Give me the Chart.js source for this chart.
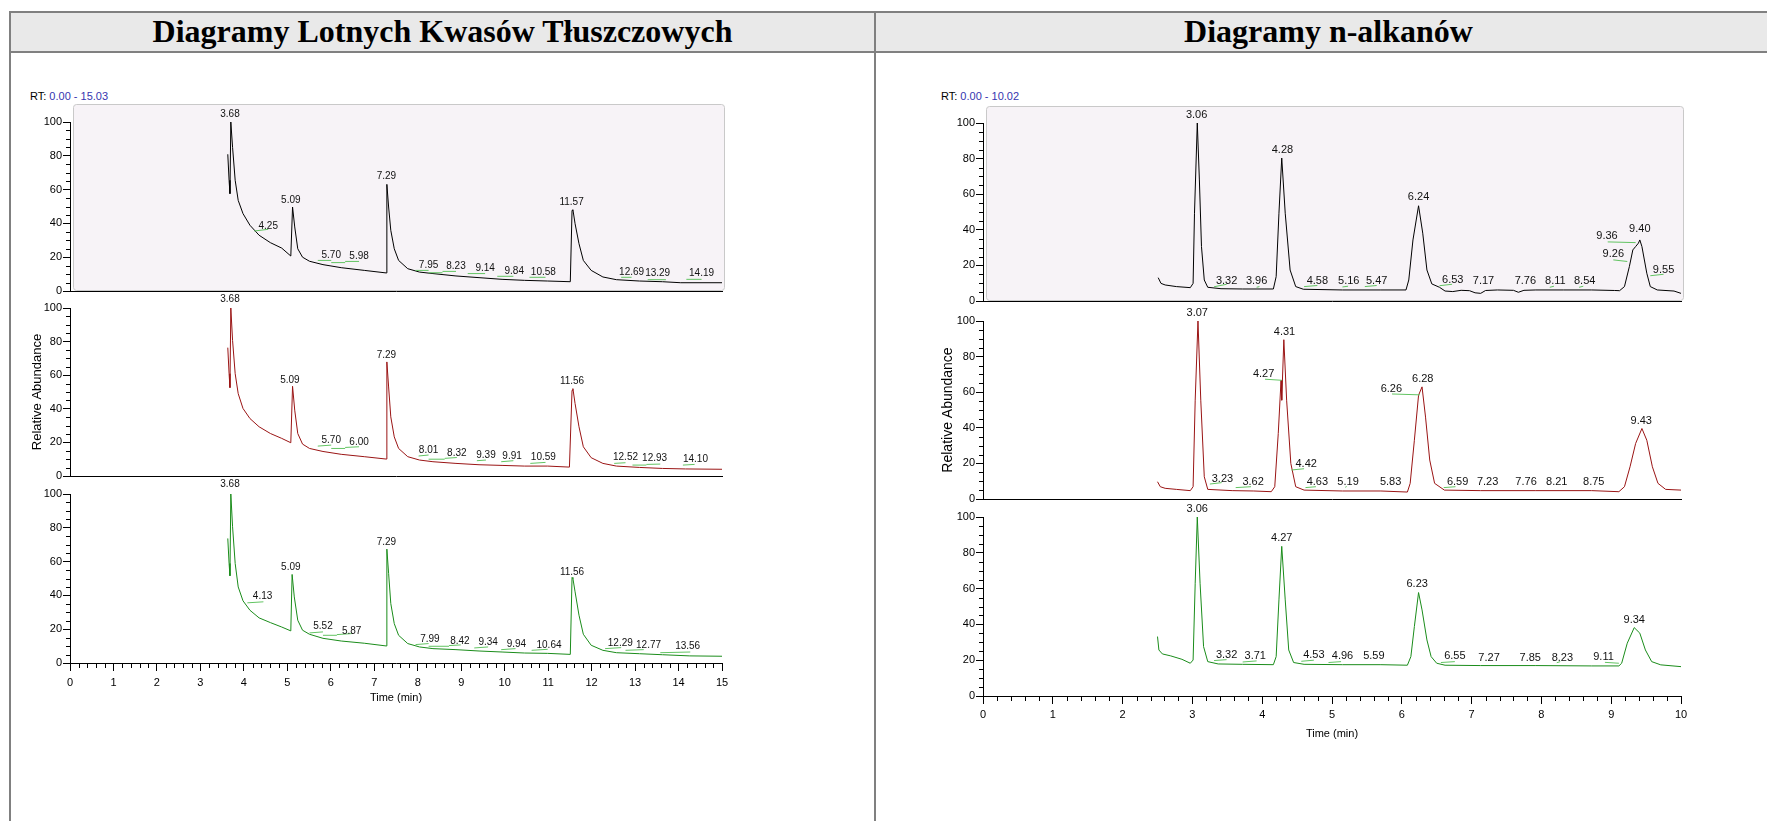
<!DOCTYPE html>
<html>
<head>
<meta charset="utf-8">
<script src="https://cdn.jsdelivr.net/npm/chart.js@4.4.1/dist/chart.umd.min.js"></script>
<style>
  body { margin: 0; width: 1767px; height: 821px; overflow: hidden; background: #fff; position: relative;
         font-family: 'Liberation Sans', Arial, sans-serif; }
  .rule { position: absolute; background: #808080; }
  .head { position: absolute; top: 13px; height: 38px; line-height: 40px; text-align: center;
          font: bold 32px 'Liberation Serif', 'Times New Roman', serif; color: #000; white-space: nowrap; }
  .rt { position: absolute; font-size: 11px; line-height: 13px; color: #000; white-space: nowrap; }
  .rt span { color: #3535b0; }
  canvas { position: absolute; }
</style>
</head>
<body>
<div class="rule" style="left:11px;top:13px;width:1760px;height:38px;background:#e9e9e9"></div>
<div class="rule" style="left:9px;top:11px;width:1760px;height:2px"></div>
<div class="rule" style="left:9px;top:51px;width:1760px;height:2px"></div>
<div class="rule" style="left:9px;top:11px;width:2px;height:810px"></div>
<div class="rule" style="left:874px;top:11px;width:2px;height:810px"></div>
<div class="head" style="left:11px;width:863px">Diagramy Lotnych Kwasów Tłuszczowych</div>
<div class="head" style="left:876px;width:905px">Diagramy n-alkanów</div>
<div class="rt" style="left:30px;top:90px">RT: <span>0.00 - 15.03</span></div>
<div class="rt" style="left:941px;top:90px">RT: <span>0.00 - 10.02</span></div>

<canvas id="vfa1"></canvas>
<canvas id="vfa2"></canvas>
<canvas id="vfa3"></canvas>
<canvas id="alk1"></canvas>
<canvas id="alk2"></canvas>
<canvas id="alk3"></canvas>

<script>
// ---- data: [time (min), relative abundance] ----
const vfaTrace1 = [[3.63,80.9],[3.66,65.5],[3.68,57.6],[3.70,100],[3.74,85],[3.80,65.5],[3.87,53.6],[3.98,45.8],[4.14,38.9],[4.35,33],[4.61,28.6],[4.87,25.4],[5.08,20.7],[5.12,49.7],[5.17,37.9],[5.24,25],[5.35,20],[5.51,17.6],[5.82,15.6],[6.24,13.8],[6.77,12.2],[7.27,10.7],[7.29,63.1],[7.33,49.7],[7.38,35.9],[7.46,25],[7.56,18.1],[7.77,13.2],[8.04,11.2],[8.35,10.3],[8.88,8.9],[9.41,7.9],[9.94,6.9],[10.46,6.3],[10.99,5.9],[11.51,5.5],[11.55,47.7],[11.57,48.1],[11.62,39.8],[11.71,28],[11.81,18.1],[11.99,12.2],[12.26,8.3],[12.57,6.7],[13.10,5.9],[13.63,5.5],[14.05,4.9],[15.0,4.9]];
const vfaTrace2 = [[3.63,76.4],[3.66,60.9],[3.68,52.6],[3.70,100],[3.74,80.7],[3.80,60.9],[3.87,49],[3.98,40.2],[4.14,34.2],[4.35,29.3],[4.61,25.3],[4.87,22.4],[5.08,19.8],[5.12,53.4],[5.17,39.2],[5.24,25.3],[5.35,19],[5.51,16.4],[5.82,14.6],[6.24,12.9],[6.77,11.5],[7.27,10.1],[7.29,67.9],[7.33,53],[7.38,35.2],[7.46,23.3],[7.56,16.4],[7.77,11.5],[8.04,9.5],[8.35,8.5],[8.88,7.5],[9.41,6.7],[9.94,6.3],[10.46,5.9],[10.99,5.9],[11.49,5.3],[11.55,51],[11.57,52],[11.62,43.1],[11.71,29.3],[11.81,17.4],[11.99,10.9],[12.26,7.5],[12.57,5.9],[13.10,5.1],[13.63,4.5],[14.16,4.2],[15.0,4.0]];
const vfaTrace3 = [[3.63,73.7],[3.66,58.9],[3.68,51.6],[3.70,100],[3.74,80.6],[3.80,58.9],[3.87,45],[3.98,36.8],[4.14,31.2],[4.35,26.7],[4.61,23.9],[4.87,21.3],[5.08,19],[5.11,52.4],[5.16,39.1],[5.24,25.3],[5.35,19.4],[5.51,17],[5.82,14.6],[6.24,13],[6.77,11.7],[7.27,10.1],[7.29,67.4],[7.33,53],[7.38,35.2],[7.46,23.3],[7.56,16.4],[7.77,11.5],[8.04,9.5],[8.35,8.5],[8.88,7.9],[9.41,7.1],[9.94,6.5],[10.46,5.9],[10.99,5.7],[11.51,5.1],[11.55,50.6],[11.57,50],[11.62,42.1],[11.71,28.3],[11.81,17],[11.99,10.5],[12.26,7.5],[12.57,6.1],[13.10,5.5],[13.63,4.9],[14.26,4.2],[15.0,4.0]];

const alkTrace1 = [[2.51,13.1],[2.55,9.9],[2.61,9.0],[2.77,8.1],[2.97,7.5],[3.01,9.9],[3.03,49.3],[3.07,100],[3.10,68],[3.13,30.6],[3.17,11.8],[3.22,7.7],[3.41,6.9],[3.72,6.75],[4.04,6.75],[4.16,6.75],[4.20,13.7],[4.24,49.3],[4.28,80.3],[4.33,49.3],[4.40,17.4],[4.48,8.1],[4.59,6.6],[5.15,6.2],[5.70,6.2],[6.06,6.2],[6.10,11.8],[6.16,34.3],[6.24,53.5],[6.30,38.1],[6.36,17.4],[6.43,9.6],[6.54,7.7],[6.62,5.6],[6.73,5.3],[6.85,6.0],[6.97,5.8],[7.05,4.6],[7.13,4.3],[7.20,5.9],[7.37,6.2],[7.60,6.0],[7.67,4.9],[7.75,6.0],[7.92,6.2],[8.32,6.2],[8.72,6.2],[9.05,5.9],[9.12,5.8],[9.19,8.1],[9.26,19.3],[9.31,28.7],[9.35,30.6],[9.39,32.5],[9.41,34.3],[9.44,30.6],[9.51,15.6],[9.56,8.1],[9.66,6.2],[9.90,5.6],[10.0,4.3]];
const alkTrace2 = [[2.50,9.7],[2.54,6.9],[2.61,6.0],[2.77,5.4],[2.97,4.7],[3.01,6.9],[3.04,55.5],[3.08,100],[3.12,55.5],[3.17,12.5],[3.22,5.4],[3.57,4.7],[3.88,4.5],[4.13,4.1],[4.18,6.9],[4.23,36.8],[4.27,66.7],[4.28,55.5],[4.31,89.5],[4.35,55.5],[4.41,20],[4.48,6.9],[4.60,5],[5.15,4.5],[5.70,4.5],[6.08,3.9],[6.12,8.8],[6.18,33],[6.24,58.3],[6.29,63],[6.34,46],[6.40,21.9],[6.47,8.8],[6.61,5],[7.13,4.7],[7.92,4.7],[8.72,4.7],[9.11,4.1],[9.19,6.9],[9.27,18.1],[9.35,31.2],[9.44,39.6],[9.51,33],[9.59,18.1],[9.67,8.8],[9.78,5.4],[10.0,5.0]];
const alkTrace3 = [[2.50,33.2],[2.52,25.7],[2.57,23.5],[2.69,22.4],[2.85,20.5],[2.97,18.3],[3.01,20.1],[3.04,63],[3.07,100],[3.11,63],[3.16,27.6],[3.22,19.2],[3.37,17.9],[3.72,17.7],[4.16,17.5],[4.20,22],[4.24,53.7],[4.28,83.6],[4.33,53.7],[4.38,25.7],[4.45,18.7],[4.60,17.7],[5.15,17.5],[5.70,17.5],[6.08,17.2],[6.13,22],[6.18,38.8],[6.24,57.8],[6.29,48.1],[6.36,31.3],[6.42,22],[6.50,18.3],[6.62,17.2],[7.13,17],[7.92,17],[8.72,16.8],[9.11,16.8],[9.15,18.3],[9.23,29.5],[9.33,38.2],[9.41,35.1],[9.49,25.7],[9.58,19.2],[9.71,17.4],[10.0,16.4]];

// ---- integration baseline marks: [t1, a1, t2, a2] ----
const vfaMarks1 = [[4.24,35.5,4.56,36.5],[5.70,18.1,6.01,18.1],[6.01,16.8,6.33,16.8],[6.33,17.5,6.65,17.5],[7.95,12.2,8.25,12.2],[8.25,10.8,8.57,10.8],[8.57,11.6,8.88,11.6],[9.15,10.3,9.55,10.3],[9.83,8.7,10.2,8.7],[10.57,8.1,10.94,8.1],[12.68,8.1,12.92,8.1],[13.29,6.7,13.71,6.7],[14.18,6.9,14.53,6.9]];
const vfaMarks2 = [[5.70,17.8,6.01,18.4],[6.01,16.4,6.33,16.4],[6.33,17,6.65,17.4],[8.02,11.9,8.25,12.5],[8.25,10,8.62,10],[8.62,10.5,8.90,11],[9.36,9.1,9.57,9.5],[9.92,8.5,10.2,9.1],[10.59,7.5,10.94,8.1],[12.52,7.5,12.78,7.9],[12.94,6.5,13.26,6.5],[13.26,6.9,13.58,7.1],[14.10,6.5,14.37,6.9]];
const vfaMarks3 = [[4.08,35.6,4.45,36.2],[5.51,17.8,5.82,18.4],[5.82,16.4,6.14,16.4],[6.14,16.8,6.48,17.4],[7.95,10.9,8.25,11.5],[8.25,9.9,8.72,9.9],[8.72,10.3,8.99,10.7],[9.30,8.9,9.62,9.5],[9.92,7.9,10.25,8.5],[10.62,7.5,10.99,8.1],[12.31,8.5,12.68,9.1],[12.78,7.5,13.20,7.9],[13.58,6.1,14.27,6.5]];
const alkMarks1 = [[3.31,8.0,3.49,9.4],[3.92,7.7,3.96,8.1],[4.60,8.1,4.79,8.7],[5.15,7.9,5.23,8.3],[5.47,8.1,5.64,8.7],[6.54,8.6,6.72,9.4],[8.12,7.7,8.18,8.3],[8.54,7.7,8.60,8.3],[8.95,33.2,9.35,32.8],[9.03,23.1,9.23,22.2],[9.56,14.2,9.75,15]];
const alkMarks2 = [[3.25,8.4,3.42,9.2],[3.62,6.4,3.84,6.9],[4.04,67.3,4.28,66.7],[4.42,16.3,4.60,17],[4.62,6.4,4.77,6.9],[5.19,6.6,5.21,7.0],[5.86,59,6.26,58.5],[6.60,6.4,6.77,6.9]];
const alkMarks3 = [[3.31,19.8,3.49,20.3],[3.72,19.0,3.92,19.6],[4.56,19.4,4.74,20],[4.95,18.7,5.13,19.2],[6.56,18.7,6.76,19.2],[8.22,18.6,8.27,19.2],[8.91,18.8,9.11,18.3]];

// ---- peak labels: [time, abundance at text baseline, text] ----
const vfaPeaks1 = [[3.68,103,'3.68'],[4.56,36.5,'4.25'],[5.08,52,'5.09'],[6.01,19.7,'5.70'],[6.65,19,'5.98'],[7.28,66,'7.29'],[8.25,13.8,'7.95'],[8.88,13.2,'8.23'],[9.55,11.6,'9.14'],[10.22,9.9,'9.84'],[10.89,9.3,'10.58'],[11.54,50.7,'11.57'],[12.92,9.3,'12.69'],[13.52,8.7,'13.29'],[14.53,8.7,'14.19']];
const vfaPeaks2 = [[3.68,103.5,'3.68'],[5.06,55.6,'5.09'],[6.01,19.8,'5.70'],[6.65,18.4,'6.00'],[7.28,70.2,'7.29'],[8.25,13.5,'8.01'],[8.90,12.1,'8.32'],[9.57,10.9,'9.39'],[10.17,10.1,'9.91'],[10.89,9.5,'10.59'],[11.55,54.6,'11.56'],[12.78,9.5,'12.52'],[13.45,8.7,'12.93'],[14.39,8.1,'14.10']];
const vfaPeaks3 = [[3.68,104,'3.68'],[4.43,37.7,'4.13'],[5.08,54.9,'5.09'],[5.82,20,'5.52'],[6.48,17.4,'5.87'],[7.28,69.6,'7.29'],[8.28,12.5,'7.99'],[8.97,11.5,'8.42'],[9.62,10.5,'9.34'],[10.27,9.5,'9.94'],[11.02,9.1,'10.64'],[11.55,52,'11.56'],[12.66,10.1,'12.29'],[13.31,8.9,'12.77'],[14.21,8.1,'13.56']];
const alkPeaks1 = [[3.06,102.8,'3.06'],[3.49,9.6,'3.32'],[3.92,9.6,'3.96'],[4.29,83,'4.28'],[4.79,9.6,'4.58'],[5.24,9.6,'5.16'],[5.64,9.6,'5.47'],[6.24,56.5,'6.24'],[6.73,10,'6.53'],[7.17,9.6,'7.17'],[7.77,9.6,'7.76'],[8.20,9.6,'8.11'],[8.62,9.6,'8.54'],[8.94,34.7,'9.36'],[9.41,38.5,'9.40'],[9.03,24.6,'9.26'],[9.75,16,'9.55']];
const alkPeaks2 = [[3.07,103,'3.07'],[3.43,9.7,'3.23'],[3.87,7.9,'3.62'],[4.32,92,'4.31'],[4.02,68.6,'4.27'],[4.63,18.1,'4.42'],[4.79,7.9,'4.63'],[5.23,7.9,'5.19'],[5.84,7.9,'5.83'],[5.85,60.2,'6.26'],[6.30,65.8,'6.28'],[6.80,7.9,'6.59'],[7.23,7.9,'7.23'],[7.78,7.9,'7.76'],[8.22,7.9,'8.21'],[8.75,7.9,'8.75'],[9.43,42.4,'9.43']];
const alkPeaks3 = [[3.07,103,'3.06'],[3.49,21,'3.32'],[3.90,20.5,'3.71'],[4.28,86.4,'4.27'],[4.74,21,'4.53'],[5.15,20.5,'4.96'],[5.60,20.5,'5.59'],[6.22,60.8,'6.23'],[6.76,20.5,'6.55'],[7.25,19.8,'7.27'],[7.84,19.8,'7.85'],[8.30,19.8,'8.23'],[8.89,20.1,'9.11'],[9.33,40.7,'9.34']];

const vfaTimeMax = 15;
const alkTimeMax = 10;

// ---- layout (page pixels of each plot area) ----
const YW = 60, PT = 26, PR = 22;
const FONT = "'Liberation Sans', Arial, sans-serif";
Chart.defaults.font.family = FONT;
Chart.defaults.color = '#000';

// light panel behind the first trace of each stack
const plotBox = {
  id: 'plotBox',
  beforeDraw(chart, args, opts) {
    if (!opts.show) return;
    const { ctx, chartArea: a } = chart;
    ctx.save();
    ctx.fillStyle = '#f7f3f7';
    ctx.strokeStyle = '#c9c9c9';
    ctx.lineWidth = 1;
    ctx.beginPath();
    ctx.roundRect(a.left + 3.5, a.top - opts.rise + 0.5, a.width - 1, a.height + opts.rise - 1, 3);
    ctx.fill();
    ctx.stroke();
    ctx.restore();
  }
};

// short minor ticks between the labelled ones
const minorTicks = {
  id: 'minorTicks',
  afterDraw(chart, args, opts) {
    const { ctx, chartArea: a, scales: { x, y } } = chart;
    ctx.save();
    ctx.strokeStyle = '#000';
    ctx.lineWidth = 1;
    ctx.beginPath();
    for (let v = 5; v < 100; v += 5) {
      if (v % 20 === 0) continue;
      const py = Math.round(y.getPixelForValue(v)) + 0.5;
      ctx.moveTo(a.left - 4, py);
      ctx.lineTo(a.left, py);
    }
    if (opts.x) {
      const n = Math.round((x.max - x.min) / 0.2);
      for (let i = 1; i < n; i++) {
        if (i % 5 === 0) continue;
        const px = Math.round(x.getPixelForValue(x.min + i * 0.2)) + 0.5;
        ctx.moveTo(px, a.bottom);
        ctx.lineTo(px, a.bottom + 5);
      }
    }
    ctx.stroke();
    ctx.restore();
  }
};

// retention-time labels above peaks
const peakLabels = {
  id: 'peakLabels',
  afterDatasetsDraw(chart, args, opts) {
    const { ctx, scales: { x, y } } = chart;
    ctx.save();
    ctx.font = opts.size + 'px ' + FONT;
    ctx.fillStyle = '#111';
    ctx.textAlign = 'center';
    ctx.textBaseline = 'alphabetic';
    opts.items.forEach(([t, a, s]) => ctx.fillText(s, x.getPixelForValue(t), y.getPixelForValue(a)));
    ctx.restore();
  }
};

function markPoints(marks) {
  const pts = [];
  marks.forEach(([t1, a1, t2, a2]) => pts.push({ x: t1, y: a1 }, { x: t2, y: a2 }, { x: t2, y: null }));
  return pts;
}

function panel(id, area, o) {
  const canvas = document.getElementById(id);
  const xh = o.bottom ? o.xh : 10;
  const w = YW + area.right - area.left + PR;
  const h = PT + area.bottom - area.top + xh;
  canvas.width = w; canvas.height = h;
  canvas.style.width = w + 'px'; canvas.style.height = h + 'px';
  canvas.style.left = (area.left - YW) + 'px';
  canvas.style.top = (area.top - PT) + 'px';

  return new Chart(canvas, {
    type: 'line',
    data: {
      datasets: [
        { data: markPoints(o.marks), borderColor: '#62c462', borderWidth: 1, pointRadius: 0, spanGaps: false },
        { data: o.trace.map(([t, a]) => ({ x: t, y: a })), borderColor: o.color, borderWidth: 1, pointRadius: 0, tension: 0 }
      ]
    },
    options: {
      responsive: false,
      animation: false,
      devicePixelRatio: 1,
      events: [],
      layout: { padding: { top: PT, right: PR, bottom: 0, left: 0 } },
      plugins: {
        legend: { display: false },
        tooltip: { enabled: false },
        plotBox: { show: !!o.box, rise: o.rise || 0 },
        minorTicks: { x: !!o.bottom },
        peakLabels: { items: o.peaks, size: o.labelSize }
      },
      scales: {
        x: {
          type: 'linear', min: 0, max: o.xmax,
          afterFit: s => { s.height = xh; },
          border: { display: true, color: '#000', width: 1 },
          grid: { display: !!o.bottom, drawOnChartArea: false, tickLength: 8, color: '#000' },
          ticks: { display: !!o.bottom, stepSize: 1, autoSkip: false, maxRotation: 0, padding: o.tickPad || 4, font: { size: 11 }, color: '#000' },
          title: { display: !!o.bottom, text: 'Time (min)', font: { size: 11 }, padding: 0, color: '#000' }
        },
        y: {
          min: 0, max: 100,
          afterFit: s => { s.width = YW; },
          border: { display: true, color: '#000', width: 1 },
          grid: { drawOnChartArea: false, tickLength: 7, color: '#000' },
          ticks: { stepSize: 20, padding: 1, font: { size: 11 }, color: '#000' },
          title: { display: !!o.yTitle, text: 'Relative Abundance', font: { size: o.yTitleSize || 13 },
                   padding: { top: o.yTitlePad || 0, bottom: 0 }, color: '#000' }
        }
      }
    },
    plugins: [plotBox, minorTicks, peakLabels]
  });
}

const vfaX = { left: 70, right: 722 };
const alkX = { left: 983, right: 1681 };

panel('vfa1', { ...vfaX, top: 122, bottom: 291 }, { trace: vfaTrace1, marks: vfaMarks1, peaks: vfaPeaks1, color: '#000000', xmax: vfaTimeMax, box: true, rise: 18, labelSize: 10 });
panel('vfa2', { ...vfaX, top: 308, bottom: 476 }, { trace: vfaTrace2, marks: vfaMarks2, peaks: vfaPeaks2, color: '#9a1414', xmax: vfaTimeMax, labelSize: 10, yTitle: true, yTitleSize: 13, yTitlePad: 20 });
panel('vfa3', { ...vfaX, top: 494, bottom: 663 }, { trace: vfaTrace3, marks: vfaMarks3, peaks: vfaPeaks3, color: '#1a8c1a', xmax: vfaTimeMax, labelSize: 10, bottom: true, xh: 42, tickPad: 5 });

panel('alk1', { ...alkX, top: 123, bottom: 301 }, { trace: alkTrace1, marks: alkMarks1, peaks: alkPeaks1, color: '#000000', xmax: alkTimeMax, box: true, rise: 17, labelSize: 11 });
panel('alk2', { ...alkX, top: 321, bottom: 499 }, { trace: alkTrace2, marks: alkMarks2, peaks: alkPeaks2, color: '#9a1414', xmax: alkTimeMax, labelSize: 11, yTitle: true, yTitleSize: 14, yTitlePad: 17 });
panel('alk3', { ...alkX, top: 517, bottom: 696 }, { trace: alkTrace3, marks: alkMarks3, peaks: alkPeaks3, color: '#1a8c1a', xmax: alkTimeMax, labelSize: 11, bottom: true, xh: 45, tickPad: 4 });
</script>
</body>
</html>
